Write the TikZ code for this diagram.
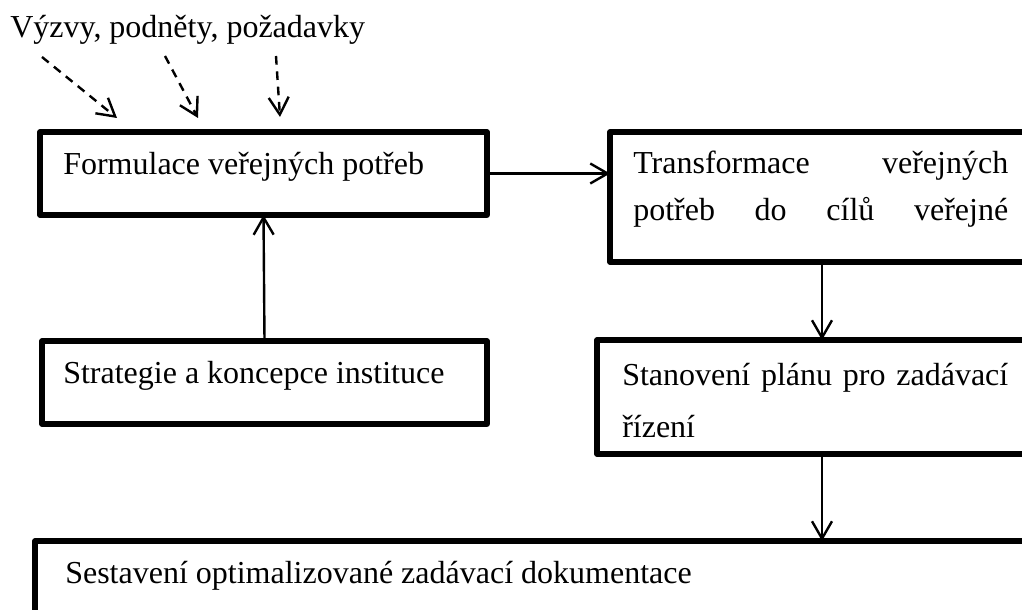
\documentclass[tikz,border=0pt]{standalone}
\usepackage{fontspec}
\setmainfont{Liberation Serif}
\usetikzlibrary{arrows.meta}
\tikzset{
  box/.style={draw, line width=3.8pt, line join=round, inner sep=0pt, outer sep=0pt, anchor=north west},
  txt/.style={anchor=base west, inner sep=0pt, font=\fontsize{24}{28}\selectfont},
  conn/.style={line width=1.8pt, -{Straight Barb[length=13pt,width=15pt,line width=1.8pt]}},
  dconn/.style={conn, dash pattern=on 6.5pt off 5pt}
}
\begin{document}
\begin{tikzpicture}[x=0.75pt,y=-0.75pt]
\clip (0,0) rectangle (1022,610);
\fill[white] (0,0) rectangle (1022,610);
% boxes
\node[box, minimum width=335.25pt, minimum height=62.25pt] (f) at (40,132) {};
\node[box, minimum width=330pt, minimum height=97.5pt] (t) at (610,132) {};
\node[box, minimum width=333.75pt, minimum height=62.25pt] (s) at (42,341) {};
\node[box, minimum width=339.75pt, minimum height=85.5pt] (p) at (597,340) {};
\node[box, minimum width=761.25pt, minimum height=81.75pt] (d) at (35,541) {};
% texts
\node[txt] (title) at (10,38) {Výzvy, podněty, požadavky};
\node[txt] (ft) at (63,175) {Formulace veřejných potřeb};
\node[txt] (st) at (63,383) {Strategie a koncepce instituce};
\node[txt] (tt1) at (633,173) {\makebox[281.25pt][s]{Transformace veřejných}};
\node[txt] (tt2) at (633,220) {\makebox[281.25pt][s]{potřeb do cílů veřejné}};
\node[txt] (pt1) at (622,385) {\makebox[289.5pt][s]{Stanovení plánu pro zadávací}};
\node[txt] (pt2) at (622,437) {řízení};
\node[txt] (dt) at (65,583) {Sestavení optimalizované zadávací dokumentace};
% dashed input arrows
\coordinate (a1s) at (42,57);  \coordinate (a1e) at (117,118);
\coordinate (a2s) at (165,56); \coordinate (a2e) at (198,118);
\coordinate (a3s) at (276,56); \coordinate (a3e) at (280,117);
\draw[dconn] (a1s) -- (a1e);
\draw[dconn] (a2s) -- (a2e);
\draw[dconn] (a3s) -- (a3e);
% solid connectors
\coordinate (cx) at (822,0);
\draw[conn] (f.east) -- (f.east -| t.west);
\draw[conn] (s.north) -- (f.south);
\draw[conn] (t.south -| cx) -- (p.north -| cx);
\draw[conn] (p.south -| cx) -- (d.north -| cx);
\end{tikzpicture}
\end{document}
